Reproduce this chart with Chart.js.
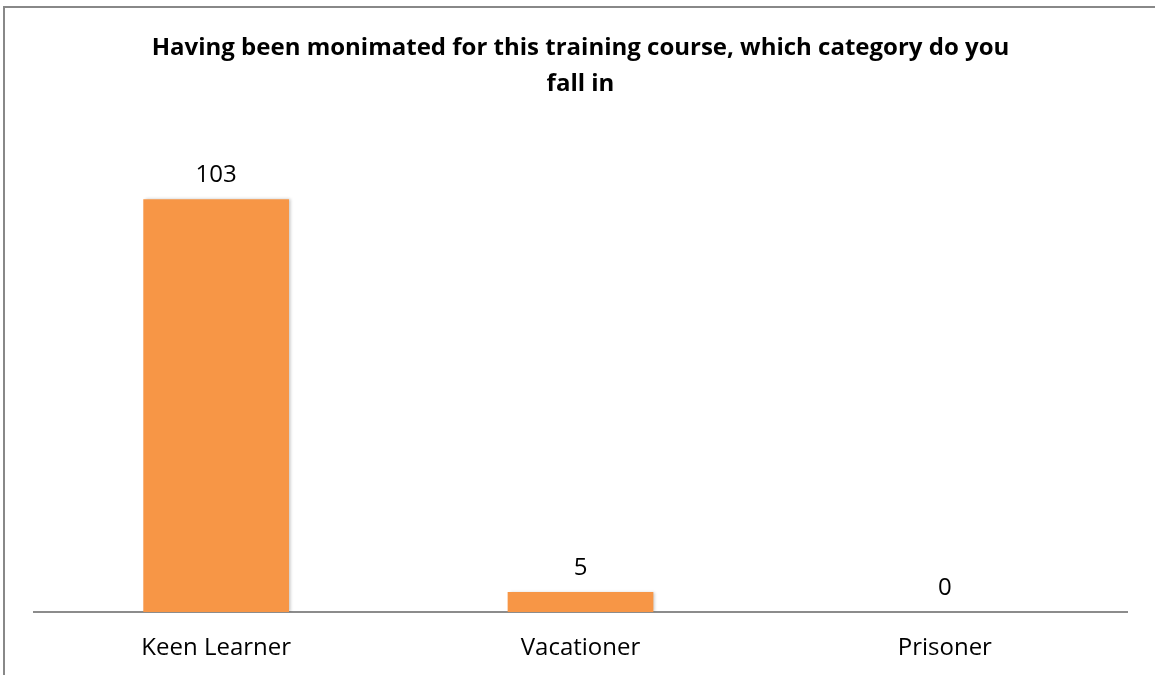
<!DOCTYPE html>
<html lang="en">
<head>
  <meta charset="UTF-8">
  <title>Training course category</title>
  <script src="https://cdn.jsdelivr.net/npm/chart.js"></script>
  <style>
    body {
      margin: 0;
      background: #fff;
    }
    #wrap {
      position: relative;
      width: 1155px;
      height: 675px;
      overflow: hidden;
    }
    #frame {
      position: absolute;
      left: 3px;
      top: 6px;
      width: 1200px;
      height: 700px;
      border-top: 2px solid #888;
      border-left: 2px solid #888;
    }
    canvas {
      position: absolute;
      left: 0;
      top: 0;
    }
  </style>
</head>
<body>
  <div id="wrap">
    <div id="frame"></div>
    <canvas id="chart" width="1155" height="675"></canvas>
  </div>

  <script>
    const categories = ['Keen Learner', 'Vacationer', 'Prisoner'];
    const counts = [103, 5, 0];
    const titleLines = ['Having been monimated for this training course, which category do you', 'fall in'];

    const fontFamily = '"Open Sans", "Noto Sans", sans-serif';

    // soft shadow on the bars, like the office chart
    const barShadow = {
      id: 'barShadow',
      beforeDatasetsDraw(chart) {
        const ctx = chart.ctx;
        ctx.save();
        ctx.shadowColor = 'rgba(0,0,0,0.22)';
        ctx.shadowBlur = 3;
        ctx.shadowOffsetX = 2;
        ctx.shadowOffsetY = 0;
      },
      afterDatasetsDraw(chart) {
        chart.ctx.restore();
      }
    };

    // draws the value above each bar
    const valueLabels = {
      id: 'valueLabels',
      afterDatasetsDraw(chart) {
        const ctx = chart.ctx;
        const meta = chart.getDatasetMeta(0);
        ctx.save();
        ctx.font = '24px ' + fontFamily;
        ctx.fillStyle = '#000';
        ctx.textAlign = 'center';
        ctx.textBaseline = 'middle';
        meta.data.forEach((bar, i) => {
          ctx.fillText(String(counts[i]), bar.x, bar.y - 24);
        });
        ctx.restore();
      }
    };

    new Chart(document.getElementById('chart'), {
      type: 'bar',
      data: {
        labels: categories,
        datasets: [{
          data: counts,
          backgroundColor: '#F79646',
          borderWidth: 0,
          categoryPercentage: 1,
          barPercentage: 0.4
        }]
      },
      options: {
        responsive: false,
        animation: false,
        layout: { padding: { left: 34, right: 28, top: 30, bottom: 0 } },
        plugins: {
          legend: { display: false },
          tooltip: { enabled: false },
          title: {
            display: true,
            text: titleLines,
            color: '#000',
            font: { family: fontFamily, size: 24, weight: 'bold', lineHeight: 1.5 },
            padding: { top: 0, bottom: 29 }
          }
        },
        scales: {
          y: {
            display: false,
            min: 0,
            max: 120
          },
          x: {
            grid: { display: false, drawTicks: false },
            border: { display: true, color: '#8c8c8c', width: 2 },
            ticks: {
              color: '#000',
              padding: 22,
              font: { family: fontFamily, size: 24 }
            },
            afterFit(scale) {
              scale.height = 63;
            }
          }
        }
      },
      plugins: [barShadow, valueLabels]
    });
  </script>
</body>
</html>
